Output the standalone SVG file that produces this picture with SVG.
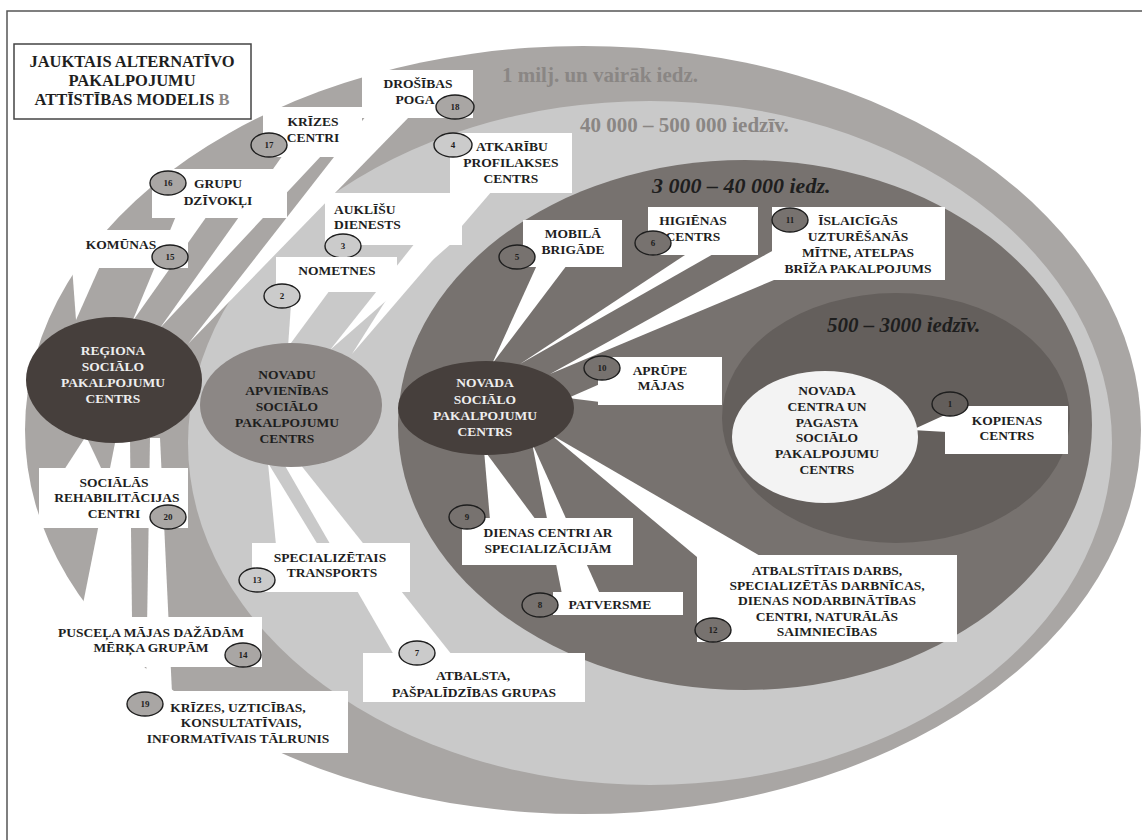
<svg xmlns="http://www.w3.org/2000/svg" width="1142" height="840" viewBox="0 0 1142 840">
<style>
.t{font-family:"Liberation Serif","Times New Roman",serif;font-weight:bold;font-size:13.5px;fill:#1e1e1e;text-anchor:middle}
.w{fill:#eeeeee}
.ttl{font-size:16.5px}
.st{text-anchor:start}
.box{fill:#ffffff}
.tail{fill:#ffffff}
.bg{stroke:#1e1e1e;stroke-width:1.4}
.n{font-family:"Liberation Serif","Times New Roman",serif;font-weight:bold;font-size:9px;fill:#1e1e1e;text-anchor:middle}
.zone{font-family:"Liberation Serif","Times New Roman",serif;font-weight:bold;font-size:21px}
.gz{fill:#8a8684}
.dz{fill:#1e1e1e;font-style:italic}
.bA{fill:#a9a6a4}.bL{fill:#cbcbcb}.bD{fill:#77726f}.bI{fill:#635e5b}
</style>
<rect width="1142" height="840" fill="#ffffff"/>
<path d="M7 840 V11 H1142" fill="none" stroke="#555" stroke-width="1.5"/>

<g id="zones">
<ellipse cx="583" cy="430" rx="558" ry="384" fill="#a9a6a4"/>
<ellipse cx="650" cy="443" rx="462" ry="342" fill="#c9c9c9"/>
<ellipse cx="745" cy="425" rx="347" ry="265" fill="#77726f"/>
<ellipse cx="896" cy="418" rx="174" ry="125" fill="#645f5c"/>
<text class="zone gz" x="502" y="82">1 milj. un vairāk iedz.</text>
<text class="zone gz" x="580" y="132">40 000 – 500 000 iedzīv.</text>
<text class="zone dz" x="652" y="193" style="font-size:22px">3 000 – 40 000 iedz.</text>
<text class="zone dz" x="827" y="332">500 – 3000 iedzīv.</text>
</g>

<g id="connectors">
<polygon class="tail" points="72,266 100,266 76,320"/>
<polygon class="tail" points="176,216 207,216 132,322"/>
<polygon class="tail" points="283,155 322,155 160,328"/>
<polygon class="tail" points="366,116 410,116 188,344"/>
<polygon class="tail" points="64,470 102,470 86,436"/>
<polygon class="tail" points="116,438 130,438 132,619 80,619"/>
<polygon class="tail" points="150,438 160,438 172,693 146,693"/>
<polygon class="tail" points="292,290 330,290 288,347"/>
<polygon class="tail" points="415,243 452,243 330,350"/>
<polygon class="tail" points="455,191 492,191 352,354"/>
<polygon class="tail" points="268,463 276,545 318,545"/>
<polygon class="tail" points="284,464 300,464 452,655 394,655"/>
<polygon class="tail" points="537,265 567,265 492,364"/>
<polygon class="tail" points="688,253 715,253 520,364"/>
<polygon class="tail" points="774,250 774,280 550,374"/>
<polygon class="tail" points="600,384 600,402 568,398"/>
<polygon class="tail" points="484,450 490,520 536,520"/>
<polygon class="tail" points="532,443 562,594 600,594"/>
<polygon class="tail" points="550,434 697,557 762,557"/>
<polygon class="tail" points="912,430 947,414 947,432"/>
</g>

<g id="title">
<rect x="14" y="44" width="237" height="75" fill="#fff" stroke="#444" stroke-width="1.5"/>
<text class="t ttl" x="132" y="67">JAUKTAIS ALTERNATĪVO</text>
<text class="t ttl" x="132" y="86">PAKALPOJUMU</text>
<text class="t ttl" x="132" y="105">ATTĪSTĪBAS MODELIS <tspan class="gz">B</tspan></text>
</g>

<g id="regiona">
<ellipse cx="114" cy="380" rx="88" ry="63" fill="#463f3c"/>
<text class="t w" x="113" y="355">REĢIONA</text>
<text class="t w" x="113" y="371">SOCIĀLO</text>
<text class="t w" x="113" y="387">PAKALPOJUMU</text>
<text class="t w" x="113" y="403">CENTRS</text>
</g>

<g id="novadu-apvienibas">
<ellipse cx="291" cy="405" rx="91" ry="62" fill="#8c8785"/>
<text class="t" x="287" y="379">NOVADU</text>
<text class="t" x="287" y="395">APVIENĪBAS</text>
<text class="t" x="287" y="411">SOCIĀLO</text>
<text class="t" x="287" y="427">PAKALPOJUMU</text>
<text class="t" x="287" y="443">CENTRS</text>
</g>

<g id="novada">
<ellipse cx="486" cy="408" rx="88" ry="47" fill="#463f3c"/>
<text class="t w" x="485" y="387">NOVADA</text>
<text class="t w" x="485" y="404">SOCIĀLO</text>
<text class="t w" x="485" y="420">PAKALPOJUMU</text>
<text class="t w" x="485" y="436">CENTRS</text>
</g>

<g id="novada-centra">
<ellipse cx="825" cy="437" rx="93" ry="66" fill="#f3f3f3"/>
<text class="t" x="827" y="395">NOVADA</text>
<text class="t" x="827" y="411">CENTRA UN</text>
<text class="t" x="827" y="427">PAGASTA</text>
<text class="t" x="827" y="442">SOCIĀLO</text>
<text class="t" x="827" y="458">PAKALPOJUMU</text>
<text class="t" x="827" y="474">CENTRS</text>
</g>

<g id="n15">
<rect class="box" x="47" y="230" width="141" height="38"/>
<text class="t" x="121" y="249">KOMŪNAS</text>
<ellipse class="bg bA" cx="170" cy="257" rx="18" ry="12"/><text class="n" x="170" y="260">15</text>
</g>
<g id="n16">
<rect class="box" x="152" y="169" width="135" height="49"/>
<text class="t" x="218" y="188">GRUPU</text>
<text class="t" x="218" y="205">DZĪVOKĻI</text>
<ellipse class="bg bA" cx="168" cy="183" rx="18" ry="12"/><text class="n" x="168" y="186">16</text>
</g>
<g id="n17">
<rect class="box" x="263" y="107" width="99" height="50"/>
<text class="t" x="313" y="126">KRĪZES</text>
<text class="t" x="313" y="142">CENTRI</text>
<ellipse class="bg bA" cx="269" cy="145" rx="18" ry="12"/><text class="n" x="269" y="148">17</text>
</g>
<g id="n18">
<rect class="box" x="362" y="70" width="111" height="48"/>
<text class="t" x="418" y="88">DROŠĪBAS</text>
<text class="t" x="415" y="104">POGA</text>
<ellipse class="bg bA" cx="455" cy="107" rx="19" ry="12"/><text class="n" x="455" y="110">18</text>
</g>
<g id="n4">
<rect class="box" x="450" y="133" width="122" height="60"/>
<text class="t" x="512" y="151">ATKARĪBU</text>
<text class="t" x="511" y="167">PROFILAKSES</text>
<text class="t" x="511" y="183">CENTRS</text>
<ellipse class="bg bL" cx="453" cy="145" rx="19" ry="12"/><text class="n" x="453" y="148">4</text>
</g>
<g id="n3">
<rect class="box" x="325" y="193" width="137" height="52"/>
<text class="t st" x="334" y="214">AUKLĪŠU</text>
<text class="t st" x="334" y="229">DIENESTS</text>
<ellipse class="bg bL" cx="343" cy="246" rx="18" ry="12"/><text class="n" x="343" y="249">3</text>
</g>
<g id="n2">
<rect class="box" x="276" y="257" width="121" height="35"/>
<text class="t" x="337" y="275">NOMETNES</text>
<ellipse class="bg bL" cx="282" cy="296" rx="18" ry="12"/><text class="n" x="282" y="299">2</text>
</g>
<g id="n5">
<rect class="box" x="523" y="220" width="99" height="47"/>
<text class="t" x="573" y="238">MOBILĀ</text>
<text class="t" x="573" y="254">BRIGĀDE</text>
<ellipse class="bg bD" cx="517" cy="257" rx="18" ry="12"/><text class="n" x="517" y="260">5</text>
</g>
<g id="n6">
<rect class="box" x="648" y="207" width="110" height="48"/>
<text class="t" x="693" y="225">HIGIĒNAS</text>
<text class="t" x="693" y="241">CENTRS</text>
<ellipse class="bg bD" cx="653" cy="243" rx="18" ry="12"/><text class="n" x="653" y="246">6</text>
</g>
<g id="n11">
<rect class="box" x="772" y="207" width="173" height="73"/>
<text class="t" x="858" y="225">ĪSLAICĪGĀS</text>
<text class="t" x="858" y="241">UZTURĒŠANĀS</text>
<text class="t" x="858" y="257">MĪTNE, ATELPAS</text>
<text class="t" x="858" y="273">BRĪŽA PAKALPOJUMS</text>
<ellipse class="bg bD" cx="790" cy="220" rx="18" ry="12"/><text class="n" x="790" y="223">11</text>
</g>
<g id="n10">
<rect class="box" x="598" y="357" width="124" height="48"/>
<text class="t" x="660" y="375">APRŪPE</text>
<text class="t" x="661" y="390">MĀJAS</text>
<ellipse class="bg bD" cx="602" cy="368" rx="18" ry="12"/><text class="n" x="602" y="371">10</text>
</g>
<g id="n1">
<rect class="box" x="945" y="406" width="123" height="48"/>
<text class="t" x="1007" y="425">KOPIENAS</text>
<text class="t" x="1007" y="440">CENTRS</text>
<ellipse class="bg bI" cx="950" cy="404" rx="18" ry="12"/><text class="n" x="950" y="407">1</text>
</g>
<g id="n9">
<rect class="box" x="462" y="518" width="171" height="47"/>
<text class="t" x="548" y="537">DIENAS CENTRI AR</text>
<text class="t" x="548" y="553">SPECIALIZĀCIJĀM</text>
<ellipse class="bg bD" cx="467" cy="517" rx="18" ry="12"/><text class="n" x="467" y="520">9</text>
</g>
<g id="n8">
<rect class="box" x="553" y="592" width="130" height="23"/>
<text class="t" x="610" y="609">PATVERSME</text>
<ellipse class="bg bD" cx="540" cy="605" rx="18" ry="12"/><text class="n" x="540" y="608">8</text>
</g>
<g id="n12">
<rect class="box" x="697" y="555" width="260" height="87"/>
<text class="t" x="827" y="575">ATBALSTĪTAIS DARBS,</text>
<text class="t" x="827" y="590">SPECIALIZĒTĀS DARBNĪCAS,</text>
<text class="t" x="827" y="605">DIENAS NODARBINĀTĪBAS</text>
<text class="t" x="827" y="621">CENTRI, NATURĀLĀS</text>
<text class="t" x="827" y="636">SAIMNIECĪBAS</text>
<ellipse class="bg bD" cx="713" cy="630" rx="18" ry="12"/><text class="n" x="713" y="633">12</text>
</g>
<g id="n7">
<rect class="box" x="363" y="653" width="222" height="49"/>
<text class="t" x="473" y="680">ATBALSTA,</text>
<text class="t" x="474" y="697">PAŠPALĪDZĪBAS GRUPAS</text>
<ellipse class="bg bL" cx="417" cy="653" rx="18" ry="12"/><text class="n" x="417" y="656">7</text>
</g>
<g id="n13">
<rect class="box" x="252" y="543" width="158" height="49"/>
<text class="t" x="330" y="562">SPECIALIZĒTAIS</text>
<text class="t" x="332" y="577">TRANSPORTS</text>
<ellipse class="bg bL" cx="257" cy="580" rx="18" ry="12"/><text class="n" x="257" y="583">13</text>
</g>
<g id="n20">
<rect class="box" x="39" y="468" width="149" height="60"/>
<text class="t" x="114" y="487">SOCIĀLĀS</text>
<text class="t" x="117" y="502">REHABILITĀCIJAS</text>
<text class="t" x="114" y="518">CENTRI</text>
<ellipse class="bg bA" cx="168" cy="517" rx="18" ry="12"/><text class="n" x="168" y="520">20</text>
</g>
<g id="n14">
<rect class="box" x="39" y="617" width="223" height="50"/>
<text class="t" x="151" y="637">PUSCEĻA MĀJAS DAŽĀDĀM</text>
<text class="t" x="151" y="652">MĒRĶA GRUPĀM</text>
<ellipse class="bg bA" cx="243" cy="655" rx="18" ry="12"/><text class="n" x="243" y="658">14</text>
</g>
<g id="n19">
<rect class="box" x="126" y="691" width="222" height="62"/>
<text class="t" x="238" y="712">KRĪZES, UZTICĪBAS,</text>
<text class="t" x="241" y="727">KONSULTATĪVAIS,</text>
<text class="t" x="238" y="743">INFORMATĪVAIS TĀLRUNIS</text>
<ellipse class="bg bA" cx="145" cy="704" rx="18" ry="12"/><text class="n" x="145" y="707">19</text>
</g>
</svg>
